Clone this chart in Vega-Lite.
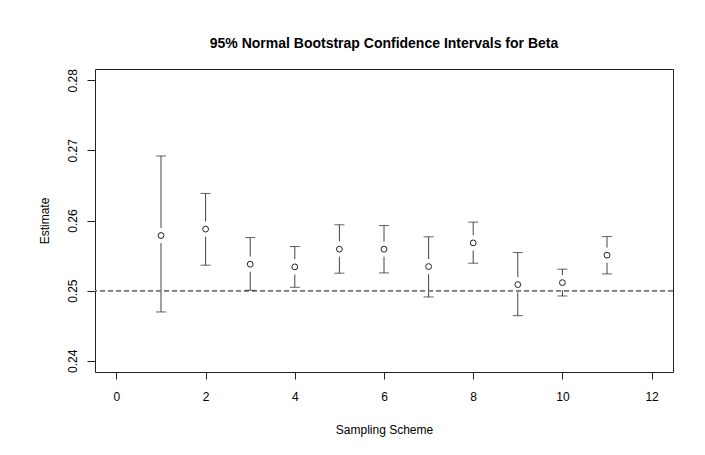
{
  "$schema": "https://vega.github.io/schema/vega-lite/v6.json",
  "width": 578,
  "height": 303,
  "autosize": {"type": "none"},
  "padding": {"left": 95, "top": 69, "right": 32, "bottom": 83},
  "background": "white",
  "title": {
    "text": "95% Normal Bootstrap Confidence Intervals for Beta",
    "font": "Liberation Sans",
    "fontSize": 14,
    "fontWeight": "bold",
    "color": "black",
    "anchor": "middle",
    "baseline": "alphabetic",
    "offset": 7
  },
  "config": {
    "view": {"stroke": "#222", "strokeWidth": 1},
    "font": "Liberation Sans",
    "axis": {
      "domain": false,
      "grid": false,
      "tickColor": "#222",
      "labelFont": "Liberation Sans",
      "titleFont": "Liberation Sans",
      "labelFontSize": 12,
      "titleFontSize": 12,
      "titleFontWeight": "normal",
      "labelColor": "black",
      "titleColor": "black"
    }
  },
  "data": {
    "values": [
      {"scheme": 1, "est": 0.25786, "lo": 0.24696, "hi": 0.26920},
      {"scheme": 2, "est": 0.25877, "lo": 0.25363, "hi": 0.26386},
      {"scheme": 3, "est": 0.25377, "lo": 0.25005, "hi": 0.25757},
      {"scheme": 4, "est": 0.25339, "lo": 0.25048, "hi": 0.25629},
      {"scheme": 5, "est": 0.25591, "lo": 0.25249, "hi": 0.25939},
      {"scheme": 6, "est": 0.25591, "lo": 0.25253, "hi": 0.25929},
      {"scheme": 7, "est": 0.25343, "lo": 0.24910, "hi": 0.25767},
      {"scheme": 8, "est": 0.25681, "lo": 0.25391, "hi": 0.25977},
      {"scheme": 9, "est": 0.25086, "lo": 0.24643, "hi": 0.25543},
      {"scheme": 10, "est": 0.25114, "lo": 0.24924, "hi": 0.25306},
      {"scheme": 11, "est": 0.25506, "lo": 0.25239, "hi": 0.25771}
    ]
  },
  "encoding": {
    "x": {
      "field": "scheme",
      "type": "quantitative",
      "scale": {"domain": [-0.48, 12.48], "nice": false, "zero": false},
      "axis": {
        "title": "Sampling Scheme",
        "values": [0, 2, 4, 6, 8, 10, 12],
        "tickSize": 7,
        "labelPadding": 17,
        "labelBaseline": "middle",
        "labelAngle": 0,
        "titlePadding": 22
      }
    }
  },
  "layer": [
    {
      "mark": {"type": "rule", "color": "#444", "strokeWidth": 1},
      "encoding": {
        "y": {
          "field": "lo",
          "type": "quantitative",
          "scale": {"domain": [0.2384, 0.2816], "nice": false, "zero": false},
          "axis": {
            "title": "Estimate",
            "values": [0.24, 0.25, 0.26, 0.27, 0.28],
            "format": ".2f",
            "tickSize": 8,
            "labelAngle": 270,
            "labelAlign": "center",
            "labelBaseline": "bottom",
            "labelPadding": 8,
            "titlePadding": 15
          }
        },
        "y2": {"field": "hi"}
      }
    },
    {
      "mark": {"type": "point", "shape": "circle", "filled": true, "size": 230, "opacity": 1, "strokeWidth": 0},
      "encoding": {
        "y": {"field": "est", "type": "quantitative"},
        "color": {"value": "#ffffff"}
      }
    },
    {
      "mark": {"type": "rule", "color": "#777", "strokeWidth": 1, "strokeDash": [5, 3]},
      "encoding": {"y": {"datum": 0.25}, "x": null}
    },
    {
      "mark": {"type": "point", "shape": "circle", "filled": false, "strokeWidth": 1, "size": 34, "opacity": 1},
      "encoding": {
        "y": {"field": "est", "type": "quantitative"},
        "color": {"value": "#222"}
      }
    },
    {
      "mark": {"type": "tick", "orient": "horizontal", "color": "#222", "size": 10, "thickness": 1},
      "encoding": {"y": {"field": "lo", "type": "quantitative"}}
    },
    {
      "mark": {"type": "tick", "orient": "horizontal", "color": "#222", "size": 10, "thickness": 1},
      "encoding": {"y": {"field": "hi", "type": "quantitative"}}
    }
  ]
}
